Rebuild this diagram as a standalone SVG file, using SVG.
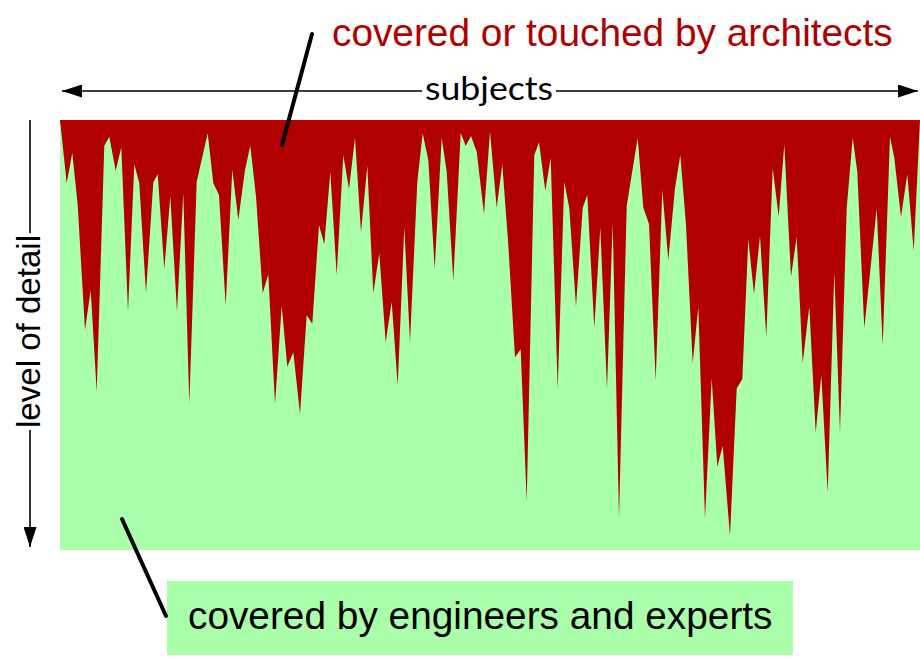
<svg xmlns="http://www.w3.org/2000/svg" width="920" height="660" viewBox="0 0 920 660">
  <style>
    .lbl { font-family: "Liberation Sans", Arial, sans-serif; font-size: 38.8px; }
    .vlbl { font-family: "Liberation Sans", Arial, sans-serif; font-size: 33px; }
    .axis { stroke: #000; stroke-width: 1.6; fill: none; }
    .leader { stroke: #000; stroke-width: 4; stroke-linecap: round; fill: none; }
    .green { fill: #aaffaa; }
  </style>
  <defs>
    <marker id="ah" markerWidth="20" markerHeight="13" refX="20" refY="6.5" orient="auto" markerUnits="userSpaceOnUse">
      <path d="M0,0 L20,6.5 L0,13 Z" fill="#000"/>
    </marker>
  </defs>
  <rect width="920" height="660" fill="#fff"/>

  <g id="chart">
    <rect class="green" x="60" y="120" width="860" height="430"/>
    <polygon fill="#b00000" points="60,120 66.7,183.3 72.3,152.7 77.7,205 85,330 90.7,290 96.7,391.7 104.3,145.7 109.3,136.7 115.7,170.7 121.3,147.3 128,311.7 134.3,164.3 139.3,183.3 146,293.3 153.3,182.3 157.7,174.3 164.3,269 170.3,196 177,311.7 183.3,193.3 189.3,404 196.7,181.7 207.7,133.3 213.3,183.3 219,195 225.7,305.7 232.3,169.3 238.3,220 245,170 250.3,145.7 256,196.7 262.7,293.3 268.3,274.3 275,404 281.7,305.7 287.3,366.7 293.3,352.3 300,414 306.7,315 312.3,324 319,225 324.3,244.3 330.3,171.7 336.7,275 343.3,155 349,189 355,137.7 361,232.3 367.3,165.7 373.3,293.3 379.3,253.3 385.7,342.3 391.7,301.7 397.7,385.7 404.3,227.3 410,342.3 417.3,181.7 422.7,133.3 428.3,160 434.7,269 441.7,137.7 446.7,171.7 453.3,281 460.7,132.7 465.7,146 471,136 476.7,151.7 484,214 490,131.5 496.7,207.7 502.3,164.3 508.3,245 515,357.3 520.7,349.3 526.7,501.7 534.3,155 539,142.3 545.3,190.7 550.7,157.7 557.7,389.3 564.3,181.7 569.3,208.3 576,306.7 582.7,207.7 587.3,195 594.3,328.3 600.3,227.3 607,389.3 612.7,222.3 619,519 626.7,206 637.7,137.7 643.3,207.7 649,224 655.7,380.7 662.3,190 668.3,260 675,188.3 680.3,155 686,225 692.7,363.3 698.3,306.7 705,519 711.7,378.3 717.3,466.7 722.7,446 730,536 736.7,388.3 742.3,379.3 748.3,239 754,294.3 760,235.7 766.3,337.3 772.7,168.3 778.7,216.7 784.3,144.3 791,276.7 796.7,236.7 802.7,363.3 809.3,306 815.7,432.7 821.3,375 827.7,492.7 834.3,271.7 840,432.7 846.7,208.3 852.7,137.7 857.3,171.7 864.3,328.3 876.7,208.3 882.7,346 890,136.7 894.3,157.7 901,217.3 907.3,174 913.7,251 919.3,134.3 920,120"/>
  </g>

  <g id="axis-subjects">
    <line class="axis" x1="422" y1="91" x2="62" y2="91" marker-end="url(#ah)"/>
    <line class="axis" x1="556" y1="91" x2="918" y2="91" marker-end="url(#ah)"/>
    <text x="489" y="100" text-anchor="middle" font-family="Lato, 'Open Sans', sans-serif" font-size="32" textLength="128" lengthAdjust="spacingAndGlyphs">subjects</text>
  </g>

  <g id="axis-detail">
    <line class="axis" x1="30" y1="120" x2="30" y2="233"/>
    <line class="axis" x1="30" y1="430" x2="30" y2="547" marker-end="url(#ah)"/>
    <text class="vlbl" transform="translate(40,331.5) rotate(-90)" text-anchor="middle" textLength="193" lengthAdjust="spacingAndGlyphs">level of detail</text>
  </g>

  <g id="label-architects">
    <text class="lbl" x="332" y="45.5" fill="#b00000">covered or touched by architects</text>
  </g>

  <g id="label-engineers">
    <rect class="green" x="167" y="581" width="626" height="74"/>
    <text class="lbl" x="188" y="629" fill="#000">covered by engineers and experts</text>
  </g>

  <g id="connectors">
    <line class="leader" x1="312" y1="34" x2="282" y2="145"/>
    <line class="leader" x1="122" y1="519" x2="166" y2="616"/>
  </g>
</svg>
